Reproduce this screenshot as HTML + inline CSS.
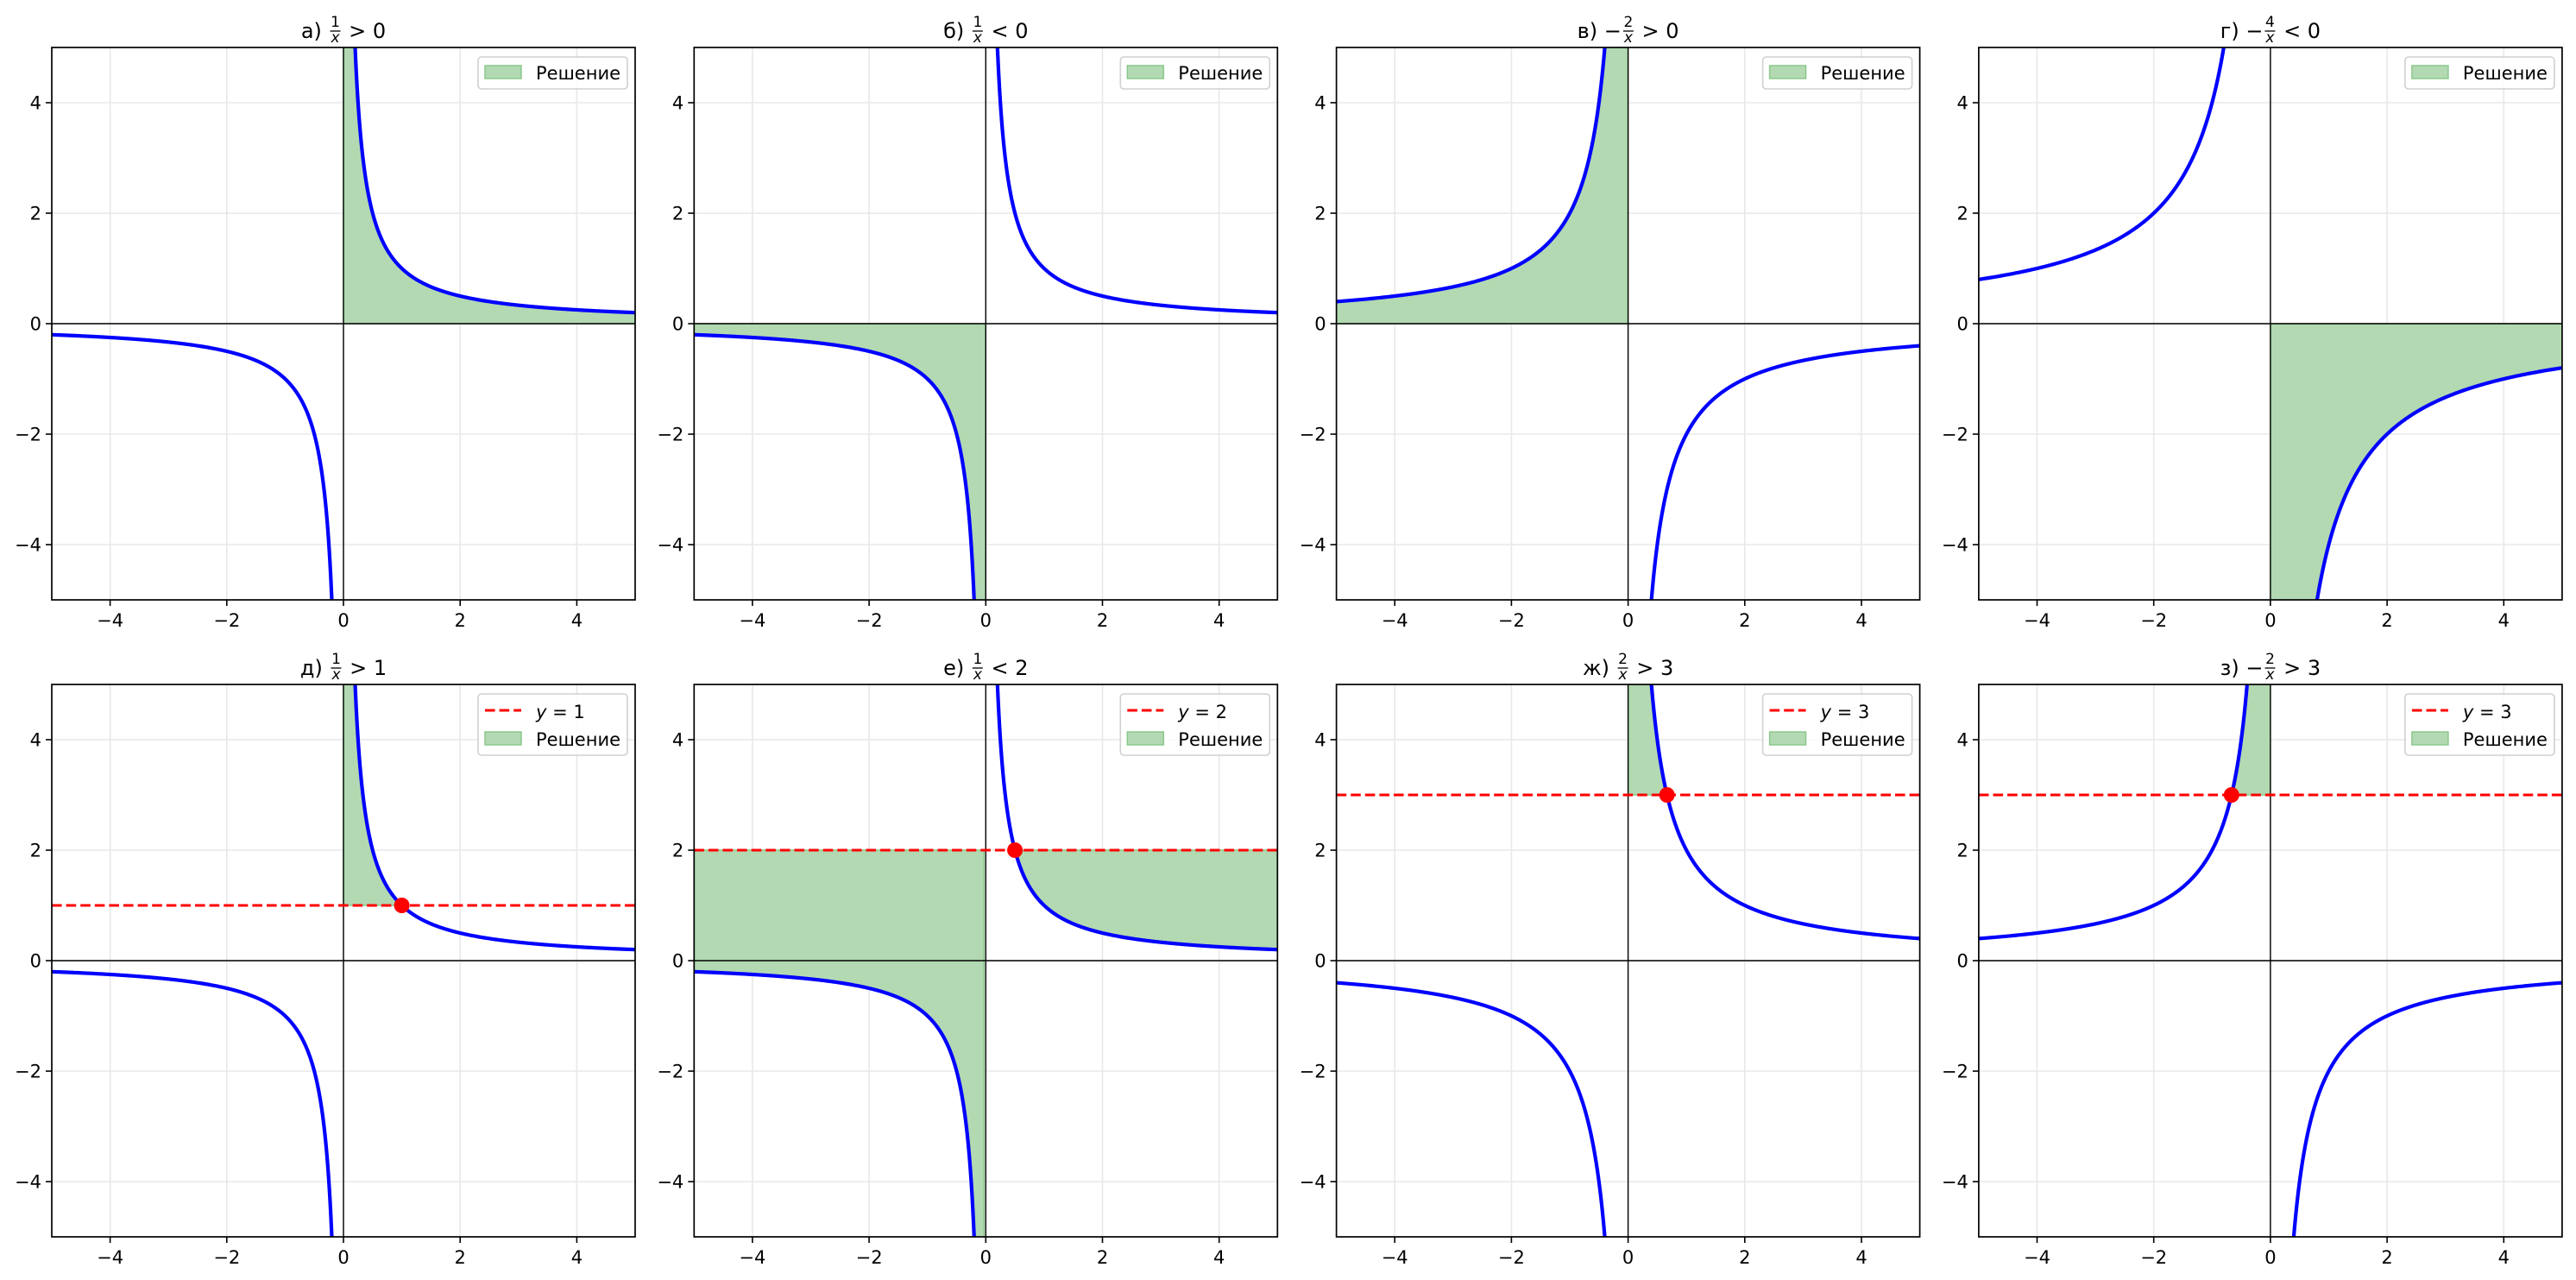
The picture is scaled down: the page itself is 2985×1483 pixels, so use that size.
<!DOCTYPE html>
<html><head><meta charset="utf-8">
<style>
html,body{margin:0;padding:0;background:#fff;overflow:hidden;width:2985px;height:1483px;}
svg{display:block;position:fixed;left:0;top:0;}
text{font-family:"DejaVu Sans","Liberation Sans",sans-serif;fill:#000;white-space:pre;}
</style></head>
<body>
<svg id="s" xmlns="http://www.w3.org/2000/svg" width="2985" height="1483" viewBox="0 0 2985 1483"></svg>
<script>
const svg=document.getElementById('s');
let out='';
const W=676,H=640,sx=W/10,sy=H/10;
const S='\u00a0';
const panels=[
 {t:'а)'+S,num:'1',neg:false,rel:S+'>'+S+'0',f:x=>1/x,fills:[[0.001,5,x=>0,x=>1/x]]},
 {t:'б)'+S,num:'1',neg:false,rel:S+'<'+S+'0',f:x=>1/x,fills:[[-5,-0.001,x=>1/x,x=>0]]},
 {t:'в)'+S,num:'2',neg:true,rel:S+'>'+S+'0',f:x=>-2/x,fills:[[-5,-0.001,x=>0,x=>-2/x]]},
 {t:'г)'+S,num:'4',neg:true,rel:S+'<'+S+'0',f:x=>-4/x,fills:[[0.001,5,x=>-4/x,x=>0]]},
 {t:'д)'+S,num:'1',neg:false,rel:S+'>'+S+'1',f:x=>1/x,h:1,dot:[1,1],fills:[[0.001,1,x=>1,x=>1/x]]},
 {t:'е)'+S,num:'1',neg:false,rel:S+'<'+S+'2',f:x=>1/x,h:2,dot:[0.5,2],fills:[[-5,-0.03,x=>1/x,x=>2],[0.5,5,x=>1/x,x=>2]]},
 {t:'ж)'+S,num:'2',neg:false,rel:S+'>'+S+'3',f:x=>2/x,h:3,dot:[2/3,3],fills:[[0.001,2/3,x=>3,x=>2/x]]},
 {t:'з)'+S,num:'2',neg:true,rel:S+'>'+S+'3',f:x=>-2/x,h:3,dot:[-2/3,3],fills:[[-2/3,-0.001,x=>3,x=>-2/x]]},
];
const cl=v=>Math.max(-12,Math.min(12,v));
panels.forEach((p,i)=>{
 const col=i%4,row=Math.floor(i/4);
 const L=60+col*744.3,T=row?793:55,R=L+W,B=T+H;
 const X=x=>(L+(x+5)*sx).toFixed(2),Y=y=>(T+(5-cl(y))*sy).toFixed(2);
 out+=`<clipPath id="c${i}"><rect x="${L}" y="${T}" width="${W}" height="${H}"/></clipPath>`;
 for(let v=-4;v<=4;v+=2){
  out+=`<line x1="${X(v)}" y1="${T}" x2="${X(v)}" y2="${B}" stroke="#e8e8e8" stroke-width="1.6"/>`;
  out+=`<line x1="${L}" y1="${Y(v)}" x2="${R}" y2="${Y(v)}" stroke="#e8e8e8" stroke-width="1.6"/>`;
 }
 out+=`<g clip-path="url(#c${i})">`;
 p.fills.forEach(fl=>{
  const [a,b,g1,g2]=fl;const n=400;let top=[],bot=[];
  for(let k=0;k<=n;k++){const x=a+(b-a)*k/n;top.push(X(x)+','+Y(g2(x)));bot.push(X(x)+','+Y(g1(x)));}
  out+=`<polygon points="${top.join(' ')} ${bot.reverse().join(' ')}" fill="rgb(178,217,178)" stroke="rgb(140,200,140)" stroke-width="1.5"/>`;
 });
 out+=`<line x1="${L}" y1="${Y(0)}" x2="${R}" y2="${Y(0)}" stroke="#000" stroke-width="1.4"/>`;
 out+=`<line x1="${X(0)}" y1="${T}" x2="${X(0)}" y2="${B}" stroke="#000" stroke-width="1.4"/>`;
 [[-5,-0.005],[0.005,5]].forEach(([a,b])=>{
  let pts=[];const n=1500;
  for(let k=0;k<=n;k++){const t=k/n;let x;
   if(a<0){x=-(0.005*Math.pow(5/0.005,1-t));}else{x=0.005*Math.pow(5/0.005,t);}
   pts.push(X(x)+','+Y(p.f(x)));}
  out+=`<polyline points="${pts.join(' ')}" fill="none" stroke="#0000ff" stroke-width="4.2" stroke-linejoin="round"/>`;
 });
 if(p.h!==undefined){
  out+=`<line x1="${L}" y1="${Y(p.h)}" x2="${R}" y2="${Y(p.h)}" stroke="#ff0000" stroke-width="3.1" stroke-dasharray="11.6,5"/>`;
  out+=`<circle cx="${X(p.dot[0])}" cy="${Y(p.dot[1])}" r="9" fill="#ff0000"/>`;
 }
 out+=`</g>`;
 out+=`<rect x="${L}" y="${T}" width="${W}" height="${H}" fill="none" stroke="#000" stroke-width="1.7"/>`;
 for(let v=-4;v<=4;v+=2){
  const lab=(v<0?'\u2212':'')+Math.abs(v);
  out+=`<line x1="${X(v)}" y1="${B}" x2="${X(v)}" y2="${B+7}" stroke="#000" stroke-width="1.6"/>`;
  out+=`<text x="${X(v)}" y="${B+31}" font-size="21" text-anchor="middle">${lab}</text>`;
  out+=`<line x1="${L-7}" y1="${Y(v)}" x2="${L}" y2="${Y(v)}" stroke="#000" stroke-width="1.6"/>`;
  out+=`<text x="${L-12}" y="${(+Y(v)+7.5).toFixed(1)}" font-size="21" text-anchor="end">${lab}</text>`;
 }
 const two=p.h!==undefined;
 const lx=R-182,ly=T+11,lw=173,lh=two?71:37;
 out+=`<rect x="${lx}" y="${ly}" width="${lw}" height="${lh}" rx="4" fill="#fff" fill-opacity="0.8" stroke="#d0d0d0" stroke-width="1.6"/>`;
 let py=ly+10;
 if(two){
  out+=`<line x1="${lx+8}" y1="${ly+19}" x2="${lx+50}" y2="${ly+19}" stroke="#ff0000" stroke-width="3.1" stroke-dasharray="11.6,5"/>`;
  out+=`<text x="${lx+67}" y="${ly+28}" font-size="21"><tspan font-style="italic">y</tspan>${S}=${S}${p.h}</text>`;
  py=ly+44;
 }
 out+=`<rect x="${lx+8}" y="${py}" width="42" height="15" fill="rgb(178,217,178)" stroke="rgb(140,200,140)" stroke-width="1.5"/>`;
 out+=`<text x="${lx+67}" y="${py+16}" font-size="21">Решение</text>`;
 out+=`<g id="tt${i}" data-c="${L+W/2}"><text x="0" y="${T-11}" font-size="24">${p.t}${p.neg?'\u2212':''}</text>`+
   `<text x="0" y="${T-24}" font-size="17" text-anchor="middle">${p.num}</text>`+
   `<text x="0" y="${T-6}" font-size="17" font-style="italic" text-anchor="middle">x</text>`+
   `<line x1="0" y1="${T-19}" x2="12" y2="${T-19}" stroke="#000" stroke-width="1.3"/>`+
   `<text x="0" y="${T-11}" font-size="24">${p.rel}</text></g>`;
});
svg.innerHTML=out;
panels.forEach((p,i)=>{
 const g=document.getElementById('tt'+i);
 const ts=g.querySelectorAll('text');
 const w0=ts[0].getComputedTextLength(),fw=16,w2=ts[3].getComputedTextLength();
 const total=w0+fw+w2;const c=+g.getAttribute('data-c');const s=c-total/2;
 ts[0].setAttribute('x',s);
 ts[1].setAttribute('x',s+w0+fw/2);ts[2].setAttribute('x',s+w0+fw/2);
 const b=g.querySelector('line');b.setAttribute('x1',s+w0+2);b.setAttribute('x2',s+w0+fw-2);
 ts[3].setAttribute('x',s+w0+fw);
});
</script>
</body></html>
